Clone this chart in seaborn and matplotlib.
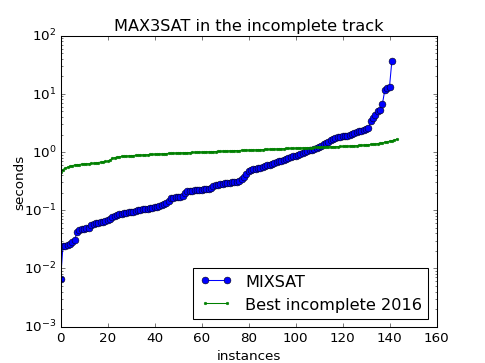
import matplotlib
matplotlib.use('Agg')
import matplotlib.pyplot as plt
import seaborn as sns
import numpy as np

# runtimes (seconds, sorted per solver)
mixsat = [
    0.0067,
    0.024, 0.024, 0.025, 0.026,
    0.029, 0.031,
    0.042,
    0.046, 0.048, 0.048, 0.049, 0.050,
    0.055, 0.058, 0.060, 0.061, 0.062, 0.064, 0.066,
    0.068, 0.072,
    0.078, 0.081, 0.083, 0.085, 0.086, 0.088, 0.090, 0.092,
    0.093, 0.095, 0.097, 0.099, 0.101, 0.103, 0.105, 0.107, 0.109, 0.111,
    0.113, 0.115, 0.117, 0.122, 0.128, 0.134, 0.145,
    0.160, 0.165, 0.167, 0.168, 0.170, 0.173,
    0.200, 0.210, 0.215, 0.218, 0.220, 0.222,
    0.224, 0.226, 0.228, 0.232, 0.236, 0.245,
    0.26, 0.27, 0.275, 0.28, 0.285, 0.29, 0.29, 0.295, 0.30, 0.305, 0.31,
    0.32, 0.34, 0.37, 0.42,
    0.47, 0.50, 0.51, 0.52, 0.53, 0.54, 0.55,
    0.57, 0.59, 0.61, 0.63, 0.65, 0.67, 0.69, 0.71, 0.73,
    0.75, 0.78, 0.81, 0.84, 0.87, 0.90, 0.93, 0.96, 1.00, 1.04,
    1.07, 1.10, 1.14, 1.18, 1.22, 1.25, 1.38, 1.42,
    1.50, 1.62, 1.68, 1.74, 1.78, 1.82, 1.85,
    1.88, 1.92, 1.96, 2.05, 2.15, 2.22, 2.28, 2.32, 2.38, 2.44, 2.55,
    3.4, 3.8, 4.3, 5.1, 5.3, 6.8, 11.6, 12.6, 13.3, 36.7,
]

best2016 = [
    0.46,
    0.50, 0.53, 0.55, 0.57, 0.58,
    0.60, 0.61, 0.61, 0.62, 0.62, 0.63, 0.63, 0.64, 0.64, 0.65, 0.66, 0.67, 0.68, 0.69,
    0.70, 0.72, 0.78, 0.80, 0.82,
    0.83, 0.84, 0.85, 0.85, 0.86, 0.87, 0.87, 0.88, 0.88, 0.89, 0.89, 0.90, 0.90, 0.91, 0.91,
    0.92, 0.92, 0.93, 0.93, 0.94, 0.94, 0.95, 0.95, 0.96, 0.96,
    0.97, 0.97, 0.97, 0.98, 0.98, 0.98, 0.99, 0.99, 0.99, 1.00,
    1.00, 1.00, 1.01, 1.01, 1.02, 1.02, 1.02, 1.03, 1.03, 1.04,
    1.04, 1.04, 1.05, 1.05, 1.06, 1.06, 1.06, 1.07, 1.07, 1.08,
    1.08, 1.08, 1.09, 1.09, 1.10, 1.10, 1.10, 1.11, 1.11, 1.12,
    1.12, 1.13, 1.13, 1.14, 1.14, 1.14, 1.15, 1.15, 1.16, 1.16,
    1.17, 1.17, 1.17, 1.18, 1.18, 1.19, 1.19, 1.19, 1.20, 1.20,
    1.21, 1.21, 1.22, 1.22, 1.22, 1.23, 1.23, 1.24, 1.24, 1.25,
    1.25, 1.26, 1.26, 1.27, 1.28, 1.28, 1.29, 1.30, 1.31, 1.32,
    1.33, 1.34, 1.35, 1.36, 1.38, 1.40, 1.42, 1.44, 1.47, 1.50,
    1.53, 1.56, 1.60, 1.66,
]

labels = ['MIXSAT', 'Best incomplete 2016']

plt.style.use('classic')
plt.rcParams['font.size'] = 12.8
fig, ax = plt.subplots(figsize=(6.4, 4.8), dpi=485 / 6.4)
fig.patch.set_facecolor('white')

sns.lineplot(x=np.arange(len(mixsat)), y=mixsat, ax=ax, color='b',
             marker='o', markersize=6.5, markeredgecolor='k',
             markeredgewidth=0.5, linewidth=1, label=labels[0])
sns.lineplot(x=np.arange(len(best2016)), y=best2016, ax=ax, color='g',
             marker='.', markersize=5, markeredgecolor='g',
             markeredgewidth=0.5, linewidth=1, label=labels[1])

ax.set_yscale('log')
ax.set_xlim(0, 160)
ax.set_ylim(1e-3, 1e2)
ax.set_title('MAX3SAT in the incomplete track')
ax.set_xlabel('instances')
ax.set_ylabel('seconds', labelpad=-2)
ax.legend(loc='lower right', numpoints=2, fancybox=False)

plt.savefig('out.png', dpi=485 / 6.4, facecolor='white')
